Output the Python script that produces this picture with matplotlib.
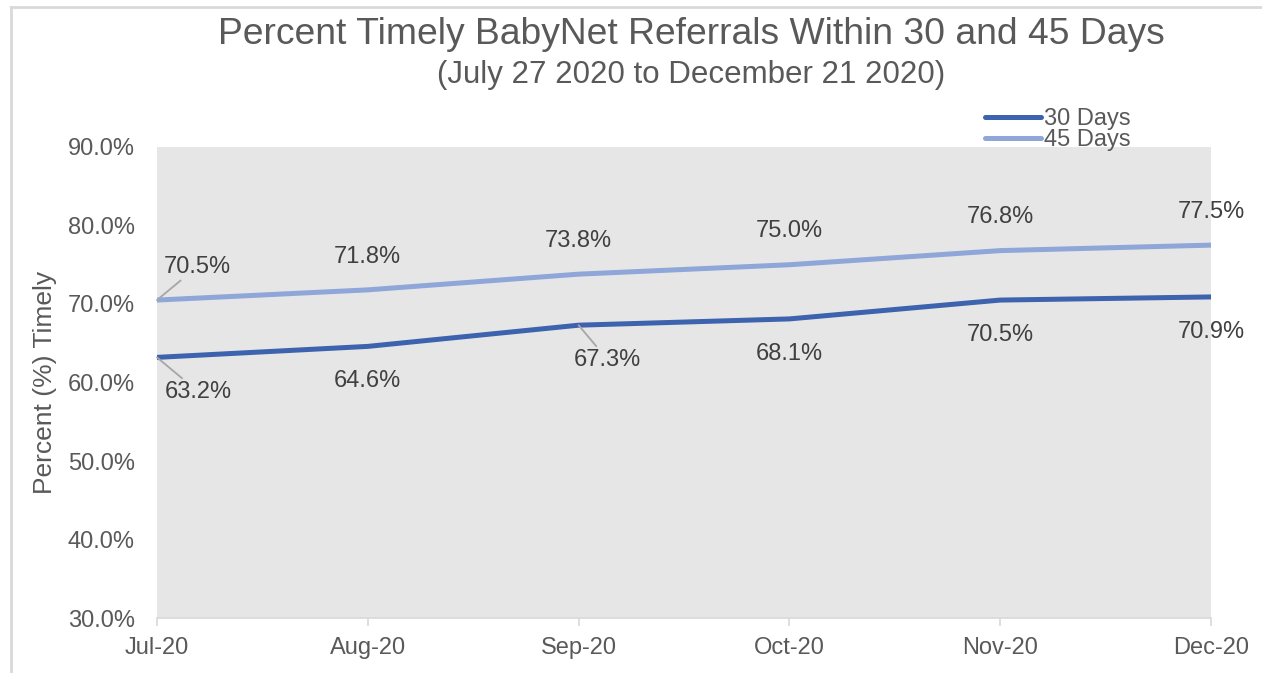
import matplotlib.pyplot as plt
from matplotlib.lines import Line2D
from matplotlib.ticker import PercentFormatter

plt.rcParams['font.family'] = ['Liberation Sans', 'DejaVu Sans']

# data
months = ["Jul-20", "Aug-20", "Sep-20", "Oct-20", "Nov-20", "Dec-20"]
days30 = [63.2, 64.6, 67.3, 68.1, 70.5, 70.9]
days45 = [70.5, 71.8, 73.8, 75.0, 76.8, 77.5]
y_ticks = [30, 40, 50, 60, 70, 80, 90]

C30 = "#3D62AE"
C45 = "#8FA6D8"
TXT = "#595959"
LBL = "#404040"

fig = plt.figure(figsize=(12.62, 6.73), dpi=100)
ax = fig.add_axes([0.1244, 0.0817, 0.8352, 0.6999])
ax.set_facecolor("#E6E6E6")

x = range(len(months))
ax.plot(x, days30, color=C30, lw=3.6, solid_capstyle="round", label="30 Days", zorder=3)
ax.plot(x, days45, color=C45, lw=3.6, solid_capstyle="round", label="45 Days", zorder=3)

ax.set_xlim(0, len(months) - 1)
ax.set_ylim(30, 90)
ax.set_xticks(list(x), months)
ax.set_yticks(y_ticks)
ax.yaxis.set_major_formatter(PercentFormatter(decimals=1))

for s in ["top", "right", "left"]:
    ax.spines[s].set_visible(False)
ax.spines["bottom"].set_color("#D9D9D9")
ax.spines["bottom"].set_linewidth(1.2)
ax.tick_params(axis="x", colors="#D9D9D9", length=6, width=1.2, labelcolor=TXT,
               labelsize=17, pad=8)
ax.tick_params(axis="y", length=0, labelcolor=TXT, labelsize=17, pad=16)
ax.set_ylabel("Percent (%) Timely", color=TXT, fontsize=19, labelpad=8)

# data labels; some pulled aside with leader lines
lead = dict(arrowstyle="-", color="#A6A6A6", lw=1.3, shrinkA=0, shrinkB=0)
for i, v in enumerate(days45):
    dx = 29 if i == 0 else 0
    ax.annotate(f"{v:.1f}%", (i, v), xytext=(dx, 24), textcoords="offset points",
                ha="center", va="center", fontsize=17, color=LBL,
                arrowprops=lead if dx else None, annotation_clip=False)
for i, v in enumerate(days30):
    dx = {0: 30, 2: 21}.get(i, 0)
    ax.annotate(f"{v:.1f}%", (i, v), xytext=(dx, -25), textcoords="offset points",
                ha="center", va="center", fontsize=17, color=LBL,
                arrowprops=lead if dx else None, annotation_clip=False)

fig.text(0.548, 0.948, "Percent Timely BabyNet Referrals Within 30 and 45 Days",
         ha="center", va="center", fontsize=26.8, color=TXT)
fig.text(0.548, 0.888, "(July 27 2020 to December 21 2020)",
         ha="center", va="center", fontsize=22.5, color=TXT)

ax.legend(loc="upper left", bbox_to_anchor=(0.771, 0.857), bbox_transform=fig.transFigure,
          frameon=False, fontsize=17, handlelength=2.4, handletextpad=0.1,
          labelspacing=-0.05, borderpad=0, labelcolor=TXT)

# chart frame
fig.add_artist(Line2D([0.0087, 0.0087], [0, 0.9896], color="#D9D9D9", lw=2,
                      transform=fig.transFigure))
fig.add_artist(Line2D([0.0087, 1.0], [0.9896, 0.9896], color="#D9D9D9", lw=2,
                      transform=fig.transFigure))

plt.savefig("out.png", dpi=100)
